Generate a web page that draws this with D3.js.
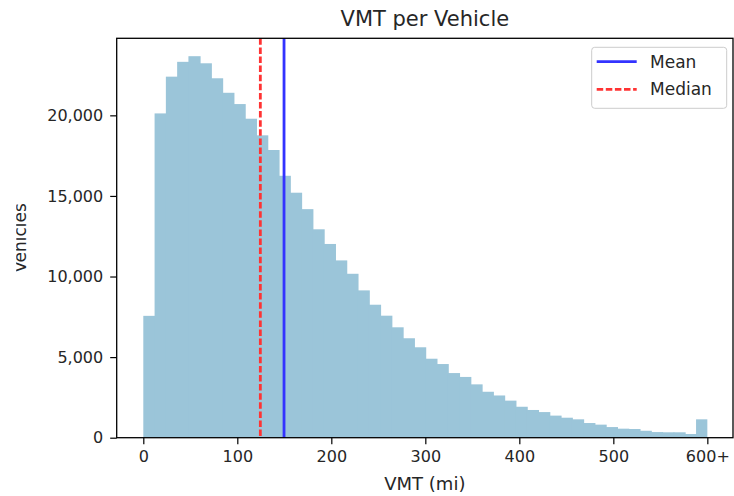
<!DOCTYPE html>
<html><head><meta charset="utf-8">
<script src="https://cdn.jsdelivr.net/npm/d3@7"></script>
<style>
body{margin:0;background:#fff}
text{font-family:"DejaVu Sans",sans-serif;fill:#262626}
</style>
</head><body>
<svg id="c" width="734" height="496"></svg>
<script>
// ---- data ----
const binWidth = 12;
const counts = [7560,20120,22400,23320,23670,23230,22300,21400,20700,19790,
                18760,17850,16250,15200,14180,12930,12020,11000,10170,9140,
                8250,7570,6850,6170,5610,4900,4570,4010,3770,3310,
                2850,2620,2300,1920,1720,1590,1370,1240,1140,910,
                810,660,560,540,430,350,335,335,230,1140];
const meanValue = 149.7;
const medianValue = 124.5;
const xTickValues = [0,100,200,300,400,500,600];
const xTickLabels = ["0","100","200","300","400","500","600+"];
const yTickValues = [0,5000,10000,15000,20000];
const legendLabels = ["Mean","Median"];
const titleText = "VMT per Vehicle";
const xLabelText = "VMT (mi)";
const yLabelText = "Vehicles";

// ---- layout ----
const L = 116.7, R = 733, T = 38.3, B = 437.7;
const svg = d3.select("#c");
const x = d3.scaleLinear().domain([-28.3, 627.3]).range([L, R]);
const y = d3.scaleLinear().domain([0, 24780]).range([B, T]);

const bins = counts.map((c,i)=>({x0:i*binWidth, x1:(i+1)*binWidth, c}));

svg.append("g").selectAll("rect").data(bins).join("rect")
  .attr("x", d=>x(d.x0))
  .attr("width", (d,i)=>x(d.x1)-x(d.x0)+(i<bins.length-1?0.9:0))
  .attr("y", d=>y(d.c))
  .attr("height", d=>y(0)-y(d.c))
  .attr("fill", "#9bc5d9");

// reference lines
svg.append("line").attr("x1",x(medianValue)).attr("x2",x(medianValue))
  .attr("y1",T).attr("y2",B).attr("stroke","#ff3333").attr("stroke-width",2.8)
  .attr("stroke-dasharray","6.5,2.6");
svg.append("line").attr("x1",x(meanValue)).attr("x2",x(meanValue))
  .attr("y1",T).attr("y2",B).attr("stroke","#3333ff").attr("stroke-width",2.8);

// axes
const xAxis = d3.axisBottom(x).tickValues(xTickValues)
  .tickFormat((d,i)=>xTickLabels[i]).tickSize(6.5).tickPadding(6);
const gx = svg.append("g").attr("transform",`translate(0,${B})`).call(xAxis);
const yAxis = d3.axisLeft(y).tickValues(yTickValues)
  .tickFormat(d3.format(",")).tickSize(6.5).tickPadding(7);
const gy = svg.append("g").attr("transform",`translate(${L},0)`).call(yAxis);
[gx,gy].forEach(g=>{
  g.select(".domain").remove();
  g.selectAll(".tick line").attr("stroke","#000").attr("stroke-width",1.2);
  g.selectAll(".tick text").attr("font-size",16).attr("fill","#262626")
   .attr("font-family","DejaVu Sans");
});

// spines
svg.append("rect").attr("x",L).attr("y",T).attr("width",R-L).attr("height",B-T)
  .attr("fill","none").attr("stroke","#000").attr("stroke-width",1.3);

// title & labels
svg.append("text").attr("x",(L+R)/2).attr("y",26).attr("text-anchor","middle")
  .attr("font-size",21).text(titleText);
svg.append("text").attr("x",(L+R)/2).attr("y",490).attr("text-anchor","middle")
  .attr("font-size",18).text(xLabelText);
svg.append("clipPath").attr("id","ylc").append("rect")
  .attr("x",16.2).attr("y",0).attr("width",100).attr("height",496);
svg.append("g").attr("clip-path","url(#ylc)")
  .append("text").attr("transform",`translate(25.5,${(T+B)/2}) rotate(-90)`)
  .attr("text-anchor","middle").attr("font-size",17).text(yLabelText);

// legend
const lg = svg.append("g");
lg.append("rect").attr("x",591.7).attr("y",47.3).attr("width",135).attr("height",61)
  .attr("rx",3).attr("fill","#fff").attr("fill-opacity",0.8)
  .attr("stroke","#cccccc").attr("stroke-width",1);
const legendStyles = [
  {color:"#3333ff", dash:null},
  {color:"#ff3333", dash:"6.5,2.6"}
];
legendLabels.forEach((lab,i)=>{
  const yy = 61.7 + i*27.6;
  lg.append("line").attr("x1",596.7).attr("x2",636.7).attr("y1",yy).attr("y2",yy)
    .attr("stroke",legendStyles[i].color).attr("stroke-width",2.8)
    .attr("stroke-dasharray",legendStyles[i].dash);
  lg.append("text").attr("x",650).attr("y",yy).attr("dy","0.36em")
    .attr("font-size",17).text(lab);
});
</script>
</body></html>
